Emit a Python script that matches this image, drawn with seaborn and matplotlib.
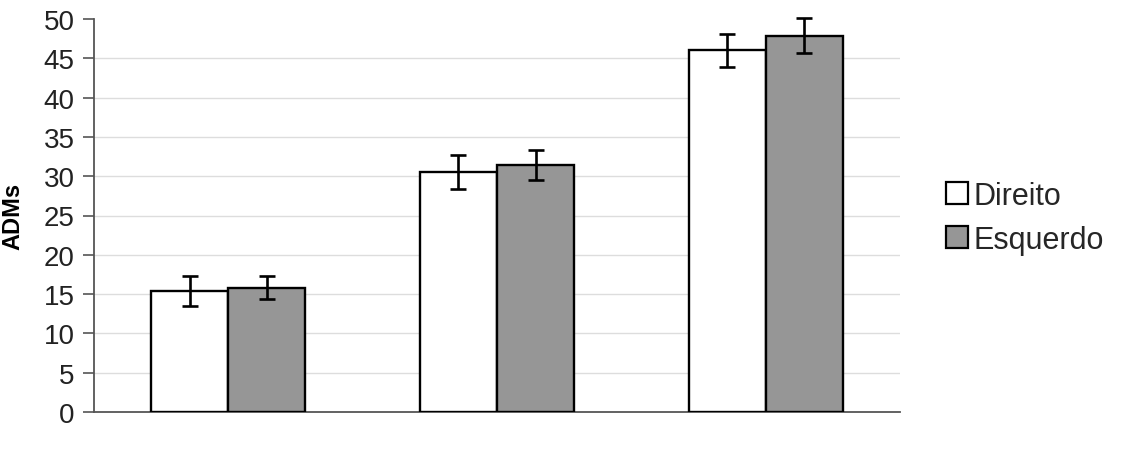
import matplotlib
matplotlib.use("Agg")
import matplotlib.pyplot as plt
import seaborn as sns
import pandas as pd
from matplotlib.patches import Patch

categories = ["Grupo 1", "Grupo 2", "Grupo 3"]
series = ["Direito", "Esquerdo"]
direito = [15.4, 30.5, 46.0]
esquerdo = [15.8, 31.4, 47.9]
err_direito = [1.9, 2.15, 2.05]
err_esquerdo = [1.45, 1.9, 2.2]
yticks = [0, 5, 10, 15, 20, 25, 30, 35, 40, 45, 50]

sns.set_theme(style="white")
plt.rcParams['font.family'] = ['Liberation Sans', 'DejaVu Sans']

df = pd.DataFrame({
    "cat": categories * 2,
    "lado": [series[0]] * 3 + [series[1]] * 3,
    "val": direito + esquerdo,
    "err": err_direito + err_esquerdo,
})

fig = plt.figure(figsize=(11.26, 4.56), dpi=100)
ax = fig.add_axes([94 / 1126, 43 / 456, 806 / 1126, 393 / 456])

colors = {"Direito": "#ffffff", "Esquerdo": "#969696"}
sns.barplot(data=df, x="cat", y="val", hue="lado", order=categories,
            hue_order=series, palette=colors, width=0.574, errorbar=None,
            edgecolor="black", linewidth=1.7, ax=ax, legend=False, zorder=3)

# error bars at bar centres
bars = [p for p in ax.patches]
for i, s in enumerate(series):
    sub = df[df["lado"] == s].set_index("cat").loc[categories]
    xs = [bars[i * 3 + j].get_x() + bars[i * 3 + j].get_width() / 2 for j in range(3)]
    eb = ax.errorbar(xs, sub["val"], yerr=sub["err"], fmt="none", ecolor="black",
                     elinewidth=1.9, capsize=6, capthick=1.9, zorder=4)
    for art in eb.lines[1]:
        art.set_clip_on(False)
    for art in eb.lines[2]:
        art.set_clip_on(False)

ax.set_xlim(-0.5, 2.5)
ax.set_ylim(0, 50)
ax.set_yticks(yticks)
ax.set_xticks(range(3))
ax.set_xticklabels([""] * 3)
ax.tick_params(axis="x", length=0)
ax.tick_params(axis="y", direction="out", length=8, width=1.2, color="#555555",
               labelsize=20, pad=6, left=True)
for lab in ax.get_yticklabels():
    lab.set_color("#222222")
for y in yticks[1:-1]:
    ax.axhline(y, color="#dddddd", linewidth=1.0, zorder=0)
for side in ["top", "right"]:
    ax.spines[side].set_visible(False)
for side in ["left", "bottom"]:
    ax.spines[side].set_color("#555555")
    ax.spines[side].set_linewidth(1.3)

ax.set_xlabel("")
ax.set_ylabel("ADMs", fontsize=17, fontweight="bold", color="black")
ax.yaxis.set_label_coords(-70 / 806, 0.5)

handles = [Patch(facecolor=colors[s], edgecolor="black", linewidth=1.6, label=s) for s in series]
fig.legend(handles=handles, loc="center left", bbox_to_anchor=(0.829, 0.52),
           frameon=False, fontsize=22, handlelength=0.72, handleheight=0.72,
           handletextpad=0.2, labelspacing=0.45, borderaxespad=0)

fig.savefig("out.png", dpi=100)
